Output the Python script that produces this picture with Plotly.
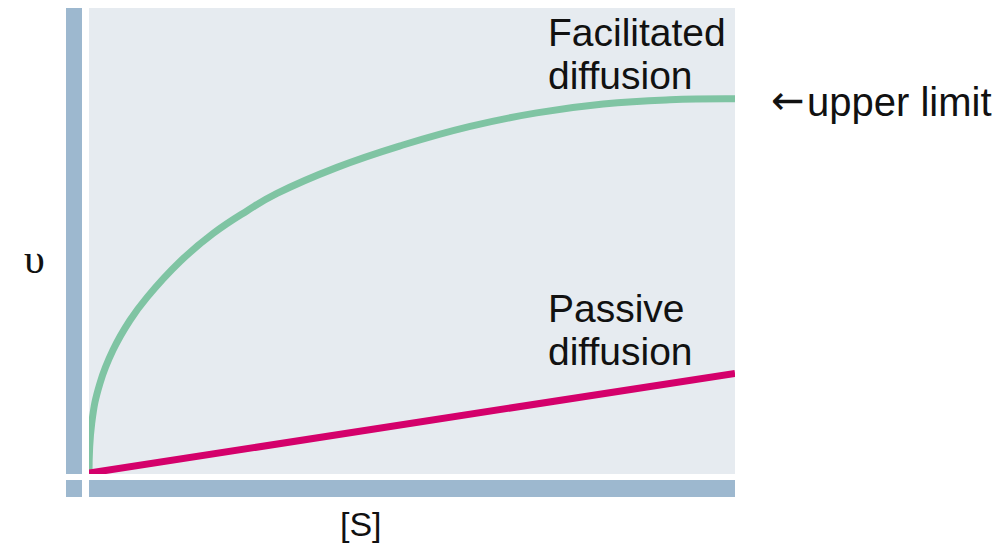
import plotly.graph_objects as go

# Data (axis units 0-100)
fac_s = [0, 0.42, 1.7, 3.72, 6.35, 8.98, 14.1, 19.2, 24.5, 29.1, 38.4, 48.6, 59.0, 69.3, 79.6, 89.9, 100]
fac_v = [0, 10.9, 19.5, 26.6, 33.0, 37.9, 45.6, 51.6, 56.5, 60.2, 65.8, 70.6, 74.6, 77.5, 79.4, 80.3, 80.5]
pas_s = [0, 100]
pas_v = [0.2, 21.6]

FONT = "Liberation Sans, Arial, sans-serif"
BAR = "#9db8cf"

fig = go.Figure()
fig.add_trace(go.Scatter(x=fac_s, y=fac_v, mode="lines",
                         line=dict(color="#7fc4a3", width=7, shape="spline", smoothing=1.3),
                         hoverinfo="skip"))
fig.add_trace(go.Scatter(x=pas_s, y=pas_v, mode="lines",
                         line=dict(color="#d4006b", width=7),
                         hoverinfo="skip"))

# page has an 8px body margin; figure is placed at (8, 8)
OFF = 8
W, H = 1000 - OFF, 557 - OFF
L, R, T, B = 89, 735, 8, 474   # plot area in page pixels
pw, ph = R - L, B - T


def px(x):
    return (x - L) / pw


def py(y):
    return (B - y) / ph


shapes = [
    dict(type="rect", xref="paper", yref="paper", x0=px(66), x1=px(82), y0=py(474), y1=py(8),
         fillcolor=BAR, line=dict(width=0), layer="below"),
    dict(type="rect", xref="paper", yref="paper", x0=px(89), x1=px(735), y0=py(497), y1=py(480),
         fillcolor=BAR, line=dict(width=0)),
    dict(type="rect", xref="paper", yref="paper", x0=px(66), x1=px(82), y0=py(497), y1=py(480),
         fillcolor=BAR, line=dict(width=0)),
]


def label(text, x, y, size=39, family=FONT, xanchor="left"):
    return dict(xref="paper", yref="paper", x=px(x), y=py(y), xanchor=xanchor, yanchor="middle",
                text=text, showarrow=False, font=dict(family=family, size=size, color="#111"))


annotations = [
    label("Facilitated", 546, 32),
    label("diffusion", 546, 75),
    label("Passive", 546, 308),
    label("diffusion", 546, 351),
    label("\u2190", 788, 100, size=40, family="DejaVu Sans, sans-serif", xanchor="center"),
    label("upper limit", 805, 102, size=40),
    label("\u03c5", 34, 259, size=42, family="Liberation Serif, serif", xanchor="center"),
    label("[S]", 361, 524, size=34, xanchor="center"),
]

fig.update_layout(
    width=W, height=H,
    margin=dict(l=L - OFF, r=W - (R - OFF), t=T - OFF, b=H - (B - OFF), pad=0),
    paper_bgcolor="white",
    plot_bgcolor="#e6ebf0",
    showlegend=False,
    shapes=shapes,
    annotations=annotations,
    xaxis=dict(range=[0, 100], showgrid=False, zeroline=False, showticklabels=False,
               ticks="", showline=False, fixedrange=True),
    yaxis=dict(range=[0, 100], showgrid=False, zeroline=False, showticklabels=False,
               ticks="", showline=False, fixedrange=True),
)

fig.write_html("out.html", config={"displayModeBar": False})
